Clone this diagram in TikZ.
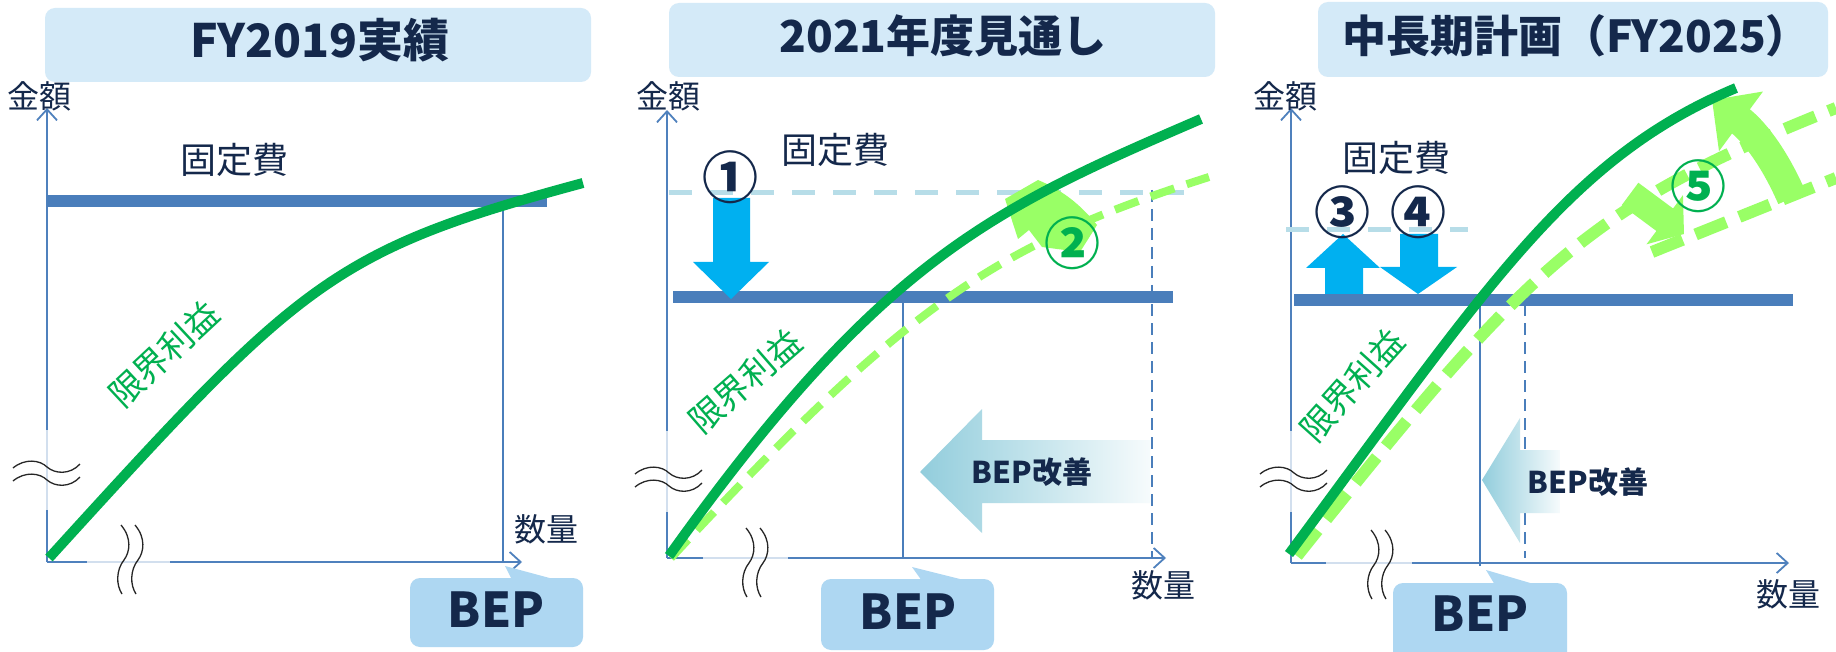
\documentclass[tikz,border=0pt]{standalone}
\usepackage{fontspec}
\setmainfont{Noto Sans CJK JP}
\usetikzlibrary{arrows.meta}
\definecolor{navy}{HTML}{14284B}
\definecolor{axisblue}{HTML}{4F81BD}
\definecolor{barblue}{HTML}{4A7EBB}
\definecolor{titlebg}{HTML}{D4EAF8}
\definecolor{bepbg}{HTML}{AED7F2}
\definecolor{mgreen}{HTML}{00B050}
\definecolor{lgreen}{HTML}{99FF66}
\definecolor{cyanarrow}{HTML}{00B0F0}
\definecolor{oldbar}{HTML}{B7DDE8}
\definecolor{impr}{HTML}{92CDDC}
\tikzset{
  titlebox/.style={fill=titlebg, rounded corners=10pt},
  titletext/.style={font=\fontsize{44}{44}\selectfont\bfseries, text=navy},
  axlabel/.style={font=\fontsize{32}{32}\selectfont, text=navy},
  fixlabel/.style={font=\fontsize{36}{36}\selectfont, text=navy},
  mplabel/.style={font=\fontsize{34}{34}\selectfont, text=mgreen},
  axisline/.style={draw=axisblue, line width=1.8pt, -{Straight Barb[length=11pt,width=20pt,line width=1.8pt]}},
  solidcurve/.style={draw=mgreen, line width=10pt},
  dashcurve/.style={draw=lgreen, line width=8pt, dash pattern=on 25pt off 13pt},
  dashcurvethick/.style={draw=lgreen, line width=12pt, dash pattern=on 33pt off 14pt},
  fixbar/.style={draw=barblue, line width=12pt},
  oldfix/.style={draw=oldbar, line width=5pt, dash pattern=on 23pt off 18pt},
  bepline/.style={draw=barblue, line width=2.5pt},
  bepdash/.style={draw=barblue, line width=2pt, dash pattern=on 12pt off 7pt},
  bepbox/.style={fill=bepbg, rounded corners=10pt},
  beptext/.style={font=\fontsize{48}{48}\selectfont\bfseries, text=navy},
  impText/.style={font=\fontsize{30}{30}\selectfont\bfseries, text=navy},
  circnum/.style={font=\fontsize{56}{56}\selectfont\bfseries, text=navy},
  circgreen/.style={font=\fontsize{56}{56}\selectfont\bfseries, text=mgreen},
  brk/.style={draw=black!85, line width=1.3pt},
  patch/.style={fill=white, opacity=0.75},
}
\begin{document}
\begin{tikzpicture}[x=1pt,y=-1pt]
\useasboundingbox (0,0) rectangle (1836,652);
\fill[white] (0,0) rectangle (1836,652);

% ---------- title boxes ----------
\fill[titlebox] (45,8) rectangle (591,82);
\fill[titlebox] (669,3) rectangle (1215,77);
\fill[titlebox] (1318,2) rectangle (1828,77);
\node[titletext, font=\fontsize{46}{46}\selectfont\bfseries] (t1) at (320,40) {FY2019実績};
\node[titletext] (t2) at (943,36) {2021年度見通し};
\node[titletext] (t3) at (1576,36) {中長期計画（FY2025）};

% ---------- coordinates ----------
\coordinate (o1) at (47,562);  \coordinate (y1) at (47,108);  \coordinate (x1) at (522,562);
\coordinate (o2) at (667,558); \coordinate (y2) at (667,110); \coordinate (x2) at (1166,558);
\coordinate (o3) at (1291,563);\coordinate (y3) at (1291,108);\coordinate (x3) at (1789,563);

% ---------- axes ----------
\draw[axisline] (o1) -- (y1);
\draw[axisline] (o1) -- (x1);
\draw[axisline] (o2) -- (y2);
\draw[axisline] (o2) -- (x2);
\draw[axisline] (o3) -- (y3);
\draw[axisline] (o3) -- (x3);

% ---------- break patches ----------
\fill[patch] (10,430) rectangle (82,510);
\fill[patch] (87,525) rectangle (170,597);
\fill[patch] (634,431) rectangle (705,512);
\fill[patch] (703,527) rectangle (788,597);
\fill[patch] (1262,431) rectangle (1333,512);
\fill[patch] (1326,527) rectangle (1412,597);

% ---------- axis labels ----------
\node[axlabel] (k1) at (40,96) {金額};
\node[axlabel] (k2) at (668,96) {金額};
\node[axlabel] (k3) at (1285,96) {金額};
\node[axlabel] (q1) at (546,529) {数量};
\node[axlabel] (q2) at (1163,585) {数量};
\node[axlabel] (q3) at (1788,594) {数量};

% ---------- old fixed cost (dashed) ----------
\coordinate (of2a) at (669,193); \coordinate (of2b) at (1197,193);
\coordinate (of3a) at (1286,230); \coordinate (of3b) at (1468,230);
\draw[oldfix] (of2a) -- (of2b);
\draw[oldfix] (of3a) -- (of3b);

% ---------- fixed cost bars ----------
\coordinate (f1a) at (47,201);  \coordinate (f1b) at (547,201);
\coordinate (f2a) at (673,297); \coordinate (f2b) at (1173,297);
\coordinate (f3a) at (1294,300);\coordinate (f3b) at (1793,300);
\draw[fixbar] (f1a) -- (f1b);
\draw[fixbar] (f2a) -- (f2b);
\draw[fixbar] (f3a) -- (f3b);
\node[fixlabel] (c1) at (234,160) {固定費};
\node[fixlabel] (c2) at (835,150) {固定費};
\node[fixlabel] (c3) at (1396,158) {固定費};

% ---------- BEP lines ----------
\coordinate (b1a) at (503,207); \coordinate (b1b) at (503,562);
\coordinate (b2a) at (903,303); \coordinate (b2b) at (903,558);
\coordinate (d2a) at (1152,190); \coordinate (d2b) at (1152,558);
\coordinate (b3a) at (1480,300); \coordinate (b3b) at (1480,566);
\coordinate (d3a) at (1525,304); \coordinate (d3b) at (1525,558);
\draw[bepline] (b1a) -- (b1b);
\draw[bepline] (b2a) -- (b2b);
\draw[bepdash] (d2a) -- (d2b);
\draw[bepline] (b3a) -- (b3b);
\draw[bepdash] (d3a) -- (d3b);

% ---------- BEP improvement arrows ----------
\shade[left color=impr, right color=white!92!impr]
  (1150,440) -- (982,440) -- (982,409) -- (920,472) -- (982,533) -- (982,503) -- (1150,503) -- cycle;
\node[impText] (i2) at (1032,472) {BEP改善};
\shade[left color=impr, right color=white!92!impr]
  (1560,450) -- (1520,450) -- (1520,418) -- (1482,480) -- (1520,543) -- (1520,513) -- (1560,513) -- cycle;
\node[impText] (i3) at (1588,482) {BEP改善};

% ---------- break marks ----------
\foreach \dx/\dy in {0/0, 622/6, 1247/6}{
  \draw[brk] (13+\dx,468+\dy) .. controls (25+\dx,458+\dy) and (40+\dx,460+\dy) .. (47+\dx,467+\dy)
     .. controls (55+\dx,474+\dy) and (70+\dx,475+\dy) .. (80+\dx,464+\dy);
  \draw[brk] (13+\dx,481+\dy) .. controls (25+\dx,471+\dy) and (40+\dx,473+\dy) .. (47+\dx,480+\dy)
     .. controls (55+\dx,487+\dy) and (70+\dx,488+\dy) .. (80+\dx,477+\dy);
}
\foreach \dx/\dy in {0/0, 625/3, 1250/5}{
  \draw[brk] (121+\dx,525+\dy) .. controls (132+\dx,538+\dy) and (130+\dx,552+\dy) .. (124+\dx,560+\dy)
     .. controls (116+\dx,570+\dy) and (116+\dx,585+\dy) .. (122+\dx,594+\dy);
  \draw[brk] (135+\dx,525+\dy) .. controls (146+\dx,538+\dy) and (144+\dx,552+\dy) .. (138+\dx,560+\dy)
     .. controls (130+\dx,570+\dy) and (130+\dx,585+\dy) .. (136+\dx,594+\dy);
}

% ---------- improvement arrows (2) and (5) ----------
\fill[lgreen] (1038,180) -- (1005,199) -- (1018,239) -- (1029,230) -- (1042,247) -- (1080,252) -- (1097,225)
  .. controls (1080,204) and (1062,190) .. cycle;
\draw[lgreen, line width=30pt, -{Triangle[length=36pt,width=72pt]}]
  (1792,198) .. controls (1772,152) and (1750,128) .. (1712,100);
\draw[lgreen, line width=28pt, -{Triangle[length=24pt,width=60pt]}]
  (1630,194) -- (1684,234);

% ---------- dashed (previous) contribution margin ----------
\draw[dashcurve] (671,558) .. controls (912,298) and (1000,244) .. (1209,177);
\draw[dashcurvethick] (1297,556) .. controls (1531,263) and (1585,208) .. (1836,108);
\draw[dashcurvethick] (1652,252) -- (1836,178);

% ---------- solid contribution margin ----------
\draw[solidcurve] (49,558) .. controls (301,281) and (331,251) .. (583,183);
\draw[solidcurve] (669,556) .. controls (881,259) and (992,209) .. (1201,119);
\draw[solidcurve] (1289,554) .. controls (1489,284) and (1569,158) .. (1736,88);

\node[mplabel, rotate=43] (m1) at (164,354) {限界利益};
\node[mplabel, rotate=41] (m2) at (745,381) {限界利益};
\node[mplabel, rotate=48] (m3) at (1352,385) {限界利益};

% ---------- fixed-cost arrows ----------
\fill[cyanarrow] (713,198) -- (750,198) -- (750,262) -- (769,262) -- (731,299) -- (693,262) -- (713,262) -- cycle;
\fill[cyanarrow] (1343,234) -- (1380,268) -- (1363,268) -- (1363,294) -- (1325,294) -- (1325,268) -- (1306,268) -- cycle;
\fill[cyanarrow] (1400,234) -- (1438,234) -- (1438,267) -- (1457,267) -- (1418,294) -- (1380,267) -- (1400,267) -- cycle;

\node[circnum] (n1) at (730,177) {①};
\node[circgreen] (n2) at (1072,243) {②};
\node[circnum] (n3) at (1342,212) {③};
\node[circnum] (n4) at (1418,212) {④};
\node[circgreen] (n5) at (1698,186) {⑤};

% ---------- BEP callouts ----------
\fill[bepbg] (505,566) -- (557,580) -- (512,580) -- cycle;
\fill[bepbox] (410,578) rectangle (583,647);
\node[beptext] (p1) at (496,610) {BEP};
\fill[bepbg] (912,567) -- (968,581) -- (922,581) -- cycle;
\fill[bepbox] (821,579) rectangle (994,650);
\node[beptext] (p2) at (908,612) {BEP};
\fill[bepbg] (1486,570) -- (1537,585) -- (1495,585) -- cycle;
\fill[bepbox] (1393,583) rectangle (1567,665);
\node[beptext] (p3) at (1480,614) {BEP};
\end{tikzpicture}
\end{document}
